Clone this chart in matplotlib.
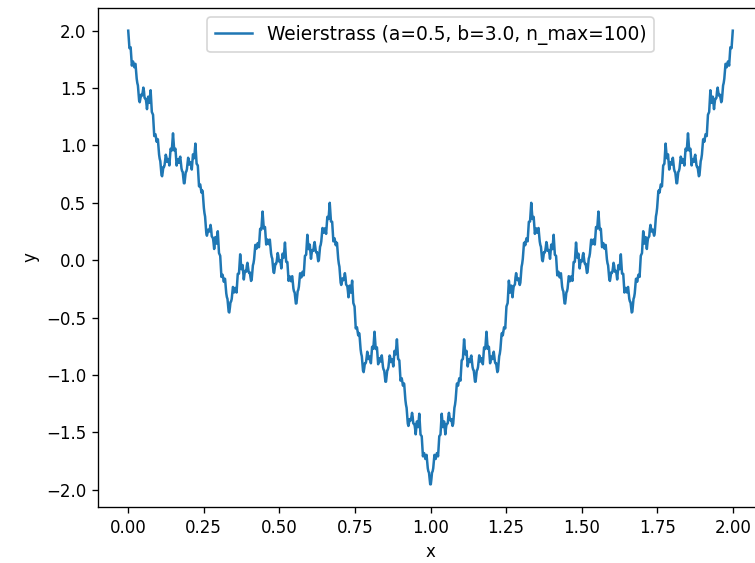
import numpy as np
import matplotlib
matplotlib.use("Agg")
import matplotlib.pyplot as plt

# parameters shown in the legend
a = 0.5
b = 3.0
n_max = 100
x_start, x_end = 0.0, 2.0
n_points = 1000

x = np.linspace(x_start, x_end, n_points)
n = np.arange(n_max + 1)
y = np.sum(a ** n[:, None] * np.cos(b ** n[:, None] * np.pi * x[None, :]), axis=0)

fig = plt.figure(figsize=(755 / 120, 563 / 120), dpi=120)
ax = fig.add_axes([98 / 755, 1 - 507 / 563, (763 - 98) / 755, (507 - 8) / 563])
ax.plot(x, y, label=f"Weierstrass (a={a}, b={b}, n_max={n_max})")
ax.set_xlabel("x")
ax.set_ylabel("y")
ax.legend(loc="upper center", fontsize=11.2)
fig.savefig("out.png", dpi=120)
